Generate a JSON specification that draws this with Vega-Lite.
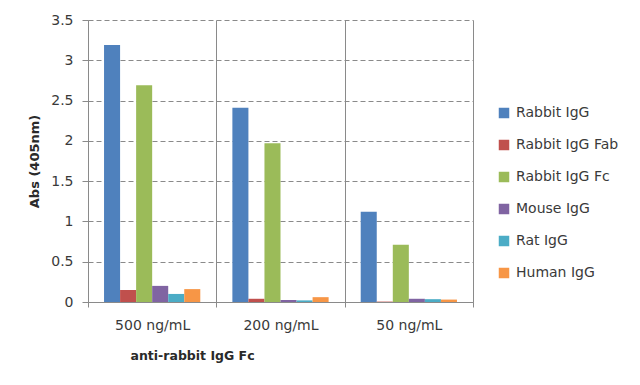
{
  "$schema": "https://vega.github.io/schema/vega-lite/v6.json",
  "width": 385,
  "height": 282,
  "autosize": {"type": "none"},
  "padding": {"left": 88, "top": 20, "right": 167, "bottom": 83},
  "background": "white",
  "config": {
    "font": "DejaVu Sans",
    "view": {"stroke": null},
    "axis": {"labelFont": "DejaVu Sans", "titleFont": "DejaVu Sans", "labelColor": "#3a3a3a", "titleColor": "#2a2a2a", "labelFontSize": 14, "titleFontSize": 13},
    "legend": {"labelFont": "DejaVu Sans", "labelFontSize": 14, "labelColor": "#3a3a3a"}
  },
  "data": {
    "values": [
      {"conc": "500 ng/mL", "sample": "Rabbit IgG", "abs": 3.19},
      {"conc": "500 ng/mL", "sample": "Rabbit IgG Fab", "abs": 0.15},
      {"conc": "500 ng/mL", "sample": "Rabbit IgG Fc", "abs": 2.69},
      {"conc": "500 ng/mL", "sample": "Mouse IgG", "abs": 0.2},
      {"conc": "500 ng/mL", "sample": "Rat IgG", "abs": 0.1},
      {"conc": "500 ng/mL", "sample": "Human IgG", "abs": 0.16},
      {"conc": "200 ng/mL", "sample": "Rabbit IgG", "abs": 2.41},
      {"conc": "200 ng/mL", "sample": "Rabbit IgG Fab", "abs": 0.04},
      {"conc": "200 ng/mL", "sample": "Rabbit IgG Fc", "abs": 1.97},
      {"conc": "200 ng/mL", "sample": "Mouse IgG", "abs": 0.025},
      {"conc": "200 ng/mL", "sample": "Rat IgG", "abs": 0.02},
      {"conc": "200 ng/mL", "sample": "Human IgG", "abs": 0.06},
      {"conc": "50 ng/mL", "sample": "Rabbit IgG", "abs": 1.12},
      {"conc": "50 ng/mL", "sample": "Rabbit IgG Fab", "abs": 0.005},
      {"conc": "50 ng/mL", "sample": "Rabbit IgG Fc", "abs": 0.71},
      {"conc": "50 ng/mL", "sample": "Mouse IgG", "abs": 0.04},
      {"conc": "50 ng/mL", "sample": "Rat IgG", "abs": 0.035},
      {"conc": "50 ng/mL", "sample": "Human IgG", "abs": 0.03}
    ]
  },
  "mark": {"type": "bar", "width": {"band": 1}},
  "encoding": {
    "x": {
      "field": "conc",
      "type": "nominal",
      "sort": ["500 ng/mL", "200 ng/mL", "50 ng/mL"],
      "scale": {"paddingInner": 0, "paddingOuter": 0},
      "axis": {
        "title": "anti-rabbit IgG Fc",
        "titleFontWeight": "bold",
        "titleFontSize": 12.5,
        "titleAnchor": "start",
        "titleAlign": "left",
        "titleX": 42,
        "titleY": 57,
        "titleBaseline": "alphabetic",
        "labelAngle": 0,
        "labelPadding": 11,
        "tickBand": "extent",
        "tickSize": 5,
        "tickColor": "#8a8a8a",
        "domainColor": "#8a8a8a",
        "grid": true,
        "gridColor": "#8a8a8a",
        "gridWidth": 1
      }
    },
    "xOffset": {
      "field": "sample",
      "type": "nominal",
      "sort": ["Rabbit IgG", "Rabbit IgG Fab", "Rabbit IgG Fc", "Mouse IgG", "Rat IgG", "Human IgG"],
      "scale": {"paddingInner": 0, "paddingOuter": 1.48}
    },
    "y": {
      "field": "abs",
      "type": "quantitative",
      "scale": {"domain": [0, 3.5], "nice": false},
      "axis": {
        "title": "Abs (405nm)",
        "titleFontWeight": "bold",
        "titlePadding": 9,
        "values": [0, 0.5, 1, 1.5, 2, 2.5, 3, 3.5],
        "format": "~g",
        "tickSize": 6,
        "labelPadding": 9,
        "tickColor": "#8a8a8a",
        "domainColor": "#8a8a8a",
        "gridColor": "#8a8a8a",
        "gridDash": [5, 3],
        "gridWidth": 1
      }
    },
    "color": {
      "field": "sample",
      "type": "nominal",
      "sort": ["Rabbit IgG", "Rabbit IgG Fab", "Rabbit IgG Fc", "Mouse IgG", "Rat IgG", "Human IgG"],
      "scale": {"range": ["#4F81BD", "#C0504D", "#9BBB59", "#8064A2", "#4BACC6", "#F79646"]},
      "legend": {
        "title": null,
        "orient": "none",
        "legendX": 409,
        "legendY": 86,
        "symbolType": "square",
        "symbolSize": 110,
        "symbolStrokeWidth": 0,
        "symbolOpacity": 1,
        "rowPadding": 18,
        "labelOffset": 5
      }
    }
  }
}
